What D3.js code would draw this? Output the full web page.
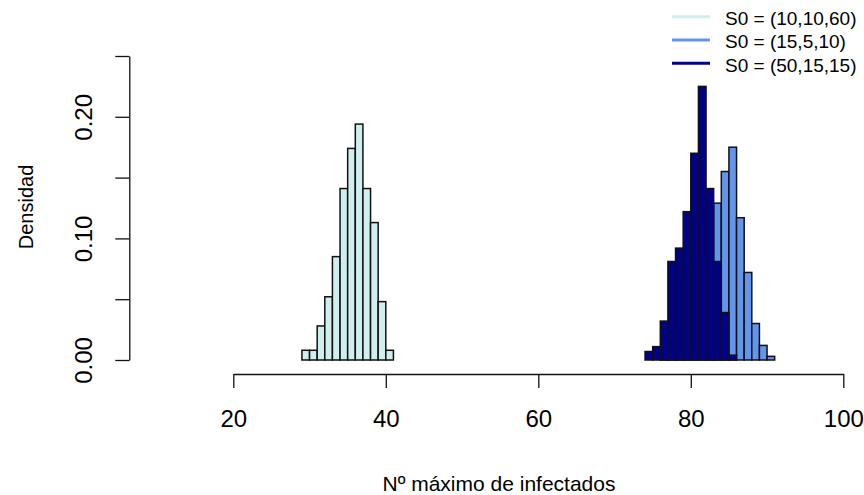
<!DOCTYPE html>
<html>
<head>
<meta charset="utf-8">
<script src="https://cdn.jsdelivr.net/npm/d3@7"></script>
<style>
  html, body { margin: 0; padding: 0; background: #fff; }
  svg { display: block; font-family: "Liberation Sans", Arial, sans-serif; }
</style>
</head>
<body>
<svg id="chart" width="864" height="495"></svg>
<script>
// Histogram bins (left edge of each unit-width bin) and their densities
const binsA = [29, 30, 31, 32, 33, 34, 35, 36, 37, 38, 39, 40];
const densA = [0.008, 0.008, 0.028, 0.052, 0.085, 0.141, 0.174, 0.194, 0.141, 0.113, 0.048, 0.008];

const binsB = [76, 77, 78, 79, 80, 81, 82, 83, 84, 85, 86, 87, 88, 89, 90];
const densB = [0.002, 0.006, 0.016, 0.030, 0.055, 0.090, 0.108, 0.129, 0.155, 0.175, 0.117, 0.072, 0.030, 0.012, 0.003];

const binsC = [74, 75, 76, 77, 78, 79, 80, 81, 82, 83, 84, 85];
const densC = [0.007, 0.011, 0.032, 0.081, 0.092, 0.122, 0.170, 0.225, 0.141, 0.081, 0.039, 0.004];

const seriesLabels = ["S0 = (10,10,60)", "S0 = (15,5,10)", "S0 = (50,15,15)"];
const seriesColors = ["#d1eeee", "#6495ed", "#00008b"];

const xTicks = [20, 40, 60, 80, 100];
const yTicks = [0, 0.05, 0.10, 0.15, 0.20, 0.25];
const yTickLabels = ["0.00", "", "0.10", "", "0.20", ""];

const xTitle = "Nº máximo de infectados";
const yTitle = "Densidad";

const svg = d3.select("#chart");

const x = d3.scaleLinear().domain([20, 100]).range([233.3, 843.3]);
const y = d3.scaleLinear().domain([0, 0.25]).range([360, 56]);

// Bars, one histogram per series, drawn in legend order
const hists = [
  { bins: binsA, dens: densA },
  { bins: binsB, dens: densB },
  { bins: binsC, dens: densC }
];
hists.forEach((h, i) => {
  svg.append("g")
    .selectAll("rect")
    .data(h.bins.map((b, j) => ({ x0: b, x1: b + 1, d: h.dens[j] })))
    .join("rect")
      .attr("x", d => x(d.x0))
      .attr("width", d => x(d.x1) - x(d.x0))
      .attr("y", d => y(d.d))
      .attr("height", d => y(0) - y(d.d))
      .attr("fill", seriesColors[i])
      .attr("stroke", "#111")
      .attr("stroke-width", 1.5);
});

// X axis
const xAxis = svg.append("g")
  .attr("transform", "translate(0,374)")
  .call(d3.axisBottom(x).tickValues(xTicks).tickSize(14).tickSizeOuter(0).tickFormat(d3.format("d")));
xAxis.selectAll("text")
  .attr("y", 53).attr("dy", null)
  .attr("font-size", 24).attr("fill", "#000")
  .style("font-family", "'Liberation Sans', Arial, sans-serif");

// Y axis with rotated labels
const yAxis = svg.append("g")
  .attr("transform", "translate(129.3,0)")
  .call(d3.axisLeft(y).tickValues(yTicks).tickSize(14).tickSizeOuter(0)
    .tickFormat((d, i) => yTickLabels[i]));
yAxis.selectAll("text")
  .attr("transform", "rotate(-90)")
  .attr("x", 0).attr("y", -37.8).attr("dy", null)
  .attr("text-anchor", "middle")
  .attr("font-size", 24).attr("fill", "#000")
  .style("font-family", "'Liberation Sans', Arial, sans-serif");

svg.selectAll(".domain, .tick line").attr("stroke", "#111").attr("stroke-width", 1.3);

// Axis titles
svg.append("text")
  .attr("x", 499).attr("y", 491)
  .attr("text-anchor", "middle")
  .attr("font-size", 21)
  .text(xTitle);

svg.append("text")
  .attr("transform", "translate(33,207) rotate(-90)")
  .attr("text-anchor", "middle")
  .attr("font-size", 20)
  .text(yTitle);

// Legend
const legend = svg.append("g");
seriesLabels.forEach((lab, i) => {
  const cy = 16.7 + i * 23.3;
  legend.append("line")
    .attr("x1", 672).attr("x2", 710)
    .attr("y1", cy).attr("y2", cy)
    .attr("stroke", seriesColors[i])
    .attr("stroke-width", 3);
  legend.append("text")
    .attr("x", 725).attr("y", cy + 8.3)
    .attr("font-size", 19)
    .text(lab);
});
</script>
</body>
</html>
